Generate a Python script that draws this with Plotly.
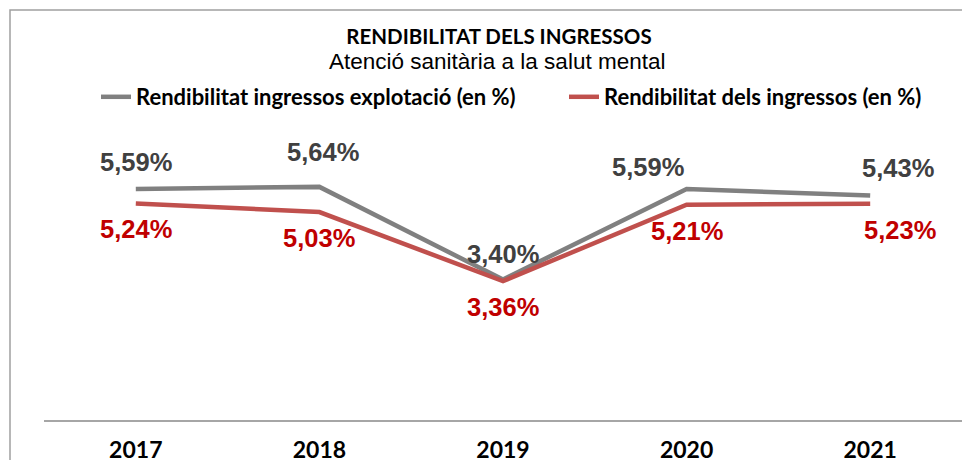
import plotly.graph_objects as go

# ---- data ----
years = ["2017", "2018", "2019", "2020", "2021"]
explotacio = [5.59, 5.64, 3.40, 5.59, 5.43]
ingressos = [5.24, 5.03, 3.36, 5.21, 5.23]
series_names = ["Rendibilitat ingressos explotació (en %)",
                "Rendibilitat dels ingressos (en %)"]
title_text = "RENDIBILITAT DELS INGRESSOS"
subtitle_text = "Atenció sanitària a la salut mental"

# ---- layout geometry (pixels) ----
W, H = 962, 460
ML, MR, MT, MB = 44, 0, 172, 40
PW, PH = W - ML - MR, H - MT - MB


def px_x(p):
    return (p - ML) / PW


def px_y(p):
    return (H - MB - p) / PH


GRAY_LINE = "#808080"
RED_LINE = "#C0504D"
GRAY_TXT = "#404040"
RED_TXT = "#C00000"

# label offsets (styling) in pixels
gray_dx = [0, 4, 0, -39, 28]
gray_dy = [27, 35, 25, 22, 28]
red_dx = [0, 0, 0, 0, 30]
red_dy = [-26, -26, -26, -26, -26]


def fmt(v):
    return f"{v:.2f}".replace(".", ",") + "%"


fig = go.Figure()
fig.add_trace(go.Scatter(x=years, y=explotacio, mode="lines", name=series_names[0],
                         line=dict(color=GRAY_LINE, width=4.5), legend="legend",
                         hoverinfo="skip"))
fig.add_trace(go.Scatter(x=years, y=ingressos, mode="lines", name=series_names[1],
                         line=dict(color=RED_LINE, width=4.5), legend="legend2",
                         hoverinfo="skip"))

annotations = []
label_font = dict(family="Liberation Sans, Arial, sans-serif", size=25.5, weight="bold")
for i, yr in enumerate(years):
    annotations.append(dict(x=i, y=explotacio[i], xref="x", yref="y", text=fmt(explotacio[i]),
                            showarrow=False, xanchor="center", yanchor="middle",
                            xshift=gray_dx[i], yshift=gray_dy[i],
                            font=dict(color=GRAY_TXT, **label_font)))
    annotations.append(dict(x=i, y=ingressos[i], xref="x", yref="y", text=fmt(ingressos[i]),
                            showarrow=False, xanchor="center", yanchor="middle",
                            xshift=red_dx[i], yshift=red_dy[i],
                            font=dict(color=RED_TXT, **label_font)))

annotations.append(dict(x=px_x(497), y=px_y(62), xref="paper", yref="paper",
                        text=subtitle_text, showarrow=False, xanchor="center", yanchor="middle",
                        font=dict(family="Liberation Sans, Arial, sans-serif", size=22.5, color="#000000")))

legend_font = dict(family="Lato, Carlito, sans-serif", size=22, color="#000000", weight="bold")

fig.update_layout(
    width=W, height=H,
    margin=dict(l=ML, r=MR, t=MT, b=MB, autoexpand=False),
    paper_bgcolor="white", plot_bgcolor="white",
    title=dict(text=title_text, x=499 / W, xref="container", xanchor="center",
               y=1 - 37 / H, yref="container", yanchor="middle",
               font=dict(family="Lato, Carlito, sans-serif", size=20.5, color="#000000", weight="bold")),
    legend=dict(orientation="h", x=px_x(96), y=px_y(97), xanchor="left", yanchor="middle",
                font=legend_font, bgcolor="rgba(0,0,0,0)"),
    legend2=dict(orientation="h", x=px_x(564), y=px_y(97), xanchor="left", yanchor="middle",
                 font=legend_font, bgcolor="rgba(0,0,0,0)"),
    xaxis=dict(type="category", range=[-0.5, len(years) - 0.5], showgrid=False, zeroline=False,
               showline=True, linecolor="#A6A6A6", linewidth=2, ticks="",
               automargin=False, ticklabelstandoff=8,
               tickfont=dict(family="Lato, Carlito, sans-serif", size=23, color="#000000", weight="bold")),
    yaxis=dict(range=[0, 6], visible=False, showgrid=False, zeroline=False, automargin=False),
    annotations=annotations,
    shapes=[dict(type="rect", xref="paper", yref="paper",
                 x0=px_x(10), x1=px_x(980), y0=px_y(480), y1=px_y(10),
                 line=dict(color="#A0A0A0", width=1.5), fillcolor="rgba(0,0,0,0)", layer="below")],
    showlegend=True,
    hovermode=False,
)

fig.write_html("out.html", config={"displayModeBar": False},
               post_script="document.body.style.margin='0';document.body.style.overflow='hidden';")
